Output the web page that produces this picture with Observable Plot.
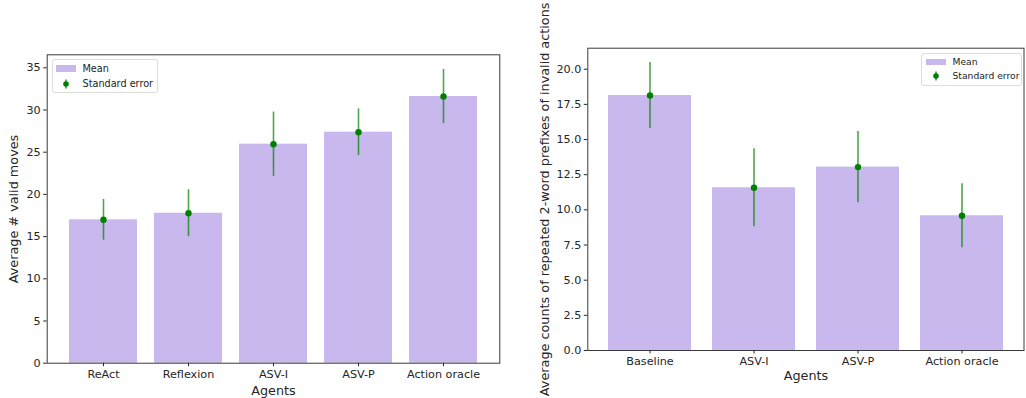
<!DOCTYPE html>
<html><head><meta charset="utf-8">
<script src="https://cdn.jsdelivr.net/npm/d3@7"></script>
<script src="https://cdn.jsdelivr.net/npm/@observablehq/plot@0.6"></script>
<style>
body{margin:0;background:#fff;font-family:"DejaVu Sans",sans-serif;}
#wrap{position:relative;width:1026px;height:398px;overflow:hidden;background:#fff}
.panel{position:absolute;top:0}
.legend{position:absolute;background:#fff;border:1px solid #dcdcdc;border-radius:3px;color:#222;box-sizing:border-box}
.item{position:absolute;left:0;height:14px;line-height:14px;white-space:nowrap}
.patch{position:absolute;width:20px;height:6.5px;background:#c9b8ed}
.lbl{position:absolute}
</style></head>
<body><div id="wrap"></div>
<script>
// Left panel data
const agentsA = ["ReAct", "Reflexion", "ASV-I", "ASV-P", "Action oracle"];
const meanA = [16.99, 17.77, 25.95, 27.37, 31.6];
const seA = [2.41, 2.78, 3.81, 2.77, 3.2];
// Right panel data
const agentsB = ["Baseline", "ASV-I", "ASV-P", "Action oracle"];
const meanB = [18.13, 11.57, 13.04, 9.58];
const seB = [2.34, 2.78, 2.53, 2.27];
const ticksA = [0, 5, 10, 15, 20, 25, 30, 35];
const ticksB = [0, 2.5, 5, 7.5, 10, 12.5, 15, 17.5, 20];
const legendLabels = ["Mean", "Standard error"];

const barColor = "#c9b8ed";
const ink = "#262626";
const font = "DejaVu Sans, sans-serif";

function panel(agents, mean, se, opts) {
  const data = agents.map((a, i) => ({agent: a, mean: mean[i], se: se[i]}));
  const ymax = d3.max(data, d => d.mean + d.se) * 1.05;
  return Plot.plot({
    width: opts.width, height: 398,
    marginLeft: opts.ml, marginRight: opts.mr, marginTop: opts.mt, marginBottom: opts.mb,
    style: {fontFamily: font, color: ink, background: "transparent", overflow: "visible"},
    x: {domain: agents, paddingInner: 0.2, paddingOuter: opts.po},
    y: {domain: [0, ymax]},
    marks: [
      Plot.barY(data, {x: "agent", y: "mean", fill: barColor}),
      Plot.ruleX(data, {x: "agent", y1: d => d.mean - d.se, y2: d => d.mean + d.se, stroke: "green", strokeOpacity: 0.7, strokeWidth: 1.6}),
      Plot.dot(data, {x: "agent", y: "mean", fill: "green", r: 3.2}),
      Plot.frame({stroke: "#3a3a3a", strokeWidth: 1}),
      Plot.axisY({ticks: opts.ticks, tickFormat: opts.fmt, tickSize: 3.5, tickPadding: 3, fontSize: 11.2, stroke: ink, fill: ink,
        label: opts.ylabel, labelAnchor: "center", labelArrow: "none", labelOffset: opts.ylo}),
      Plot.axisX({tickSize: 3.5, tickPadding: 3, fontSize: 11.2, stroke: ink, fill: ink,
        label: "Agents", labelAnchor: "center", labelArrow: "none", labelOffset: opts.xlo})
    ]
  });
}

const wrap = document.getElementById("wrap");
const pA = panel(agentsA, meanA, seA, {width: 520, ml: 46.7, mr: 20.7, mt: 54.3, mb: 35.3, po: 0.24,
  ticks: ticksA, fmt: d3.format("d"), ylabel: "Average # valid moves", ylo: 38, xlo: 32});
const pB = panel(agentsB, meanB, seB, {width: 506, ml: 67.3, mr: 2.5, mt: 47.7, mb: 48, po: 0.19,
  ticks: ticksB, fmt: d3.format(".1f"), ylabel: "Average counts of repeated 2-word prefixes of invalid actions", ylo: 48, xlo: 29});
const dA = document.createElement("div"); dA.className = "panel"; dA.style.left = "0px"; dA.appendChild(pA);
const dB = document.createElement("div"); dB.className = "panel"; dB.style.left = "520px"; dB.appendChild(pB);
wrap.appendChild(dA); wrap.appendChild(dB);
d3.selectAll("g[aria-label='y-axis label'], g[aria-label='x-axis label']").attr("font-size", 12.8);

function legend(box) {
  const L = document.createElement("div");
  L.className = "legend";
  Object.assign(L.style, {left: box.x + "px", top: box.y + "px", width: box.w + "px", height: box.h + "px", fontSize: box.fs + "px"});
  legendLabels.forEach((t, i) => {
    const it = document.createElement("div");
    it.className = "item";
    it.style.top = (box.rows[i] - 7) + "px";
    it.style.width = "100%";
    if (i === 0) {
      const p = document.createElement("div"); p.className = "patch";
      p.style.left = box.px + "px"; p.style.top = "3.8px"; it.appendChild(p);
    } else {
      const s = document.createElementNS("http://www.w3.org/2000/svg", "svg");
      s.setAttribute("width", 10); s.setAttribute("height", 14);
      s.style.position = "absolute"; s.style.left = (box.mx - 5) + "px"; s.style.top = "0px";
      s.innerHTML = '<line x1="5" x2="5" y1="2.5" y2="11.5" stroke="green" stroke-opacity="0.8" stroke-width="1.6"/><circle cx="5" cy="7" r="2.8" fill="green"/>';
      it.appendChild(s);
    }
    const l = document.createElement("span"); l.className = "lbl"; l.style.left = box.tx + "px"; l.textContent = t;
    it.appendChild(l);
    L.appendChild(it);
  });
  wrap.appendChild(L);
}
legend({x: 51.5, y: 59, w: 106, h: 34, rows: [8.5, 24], px: 3.3, mx: 13.3, tx: 30, fs: 9.7});
legend({x: 921, y: 53.3, w: 101, h: 32.5, rows: [7.9, 21.5], px: 4, mx: 14, tx: 30.5, fs: 9.2});
</script></body></html>
